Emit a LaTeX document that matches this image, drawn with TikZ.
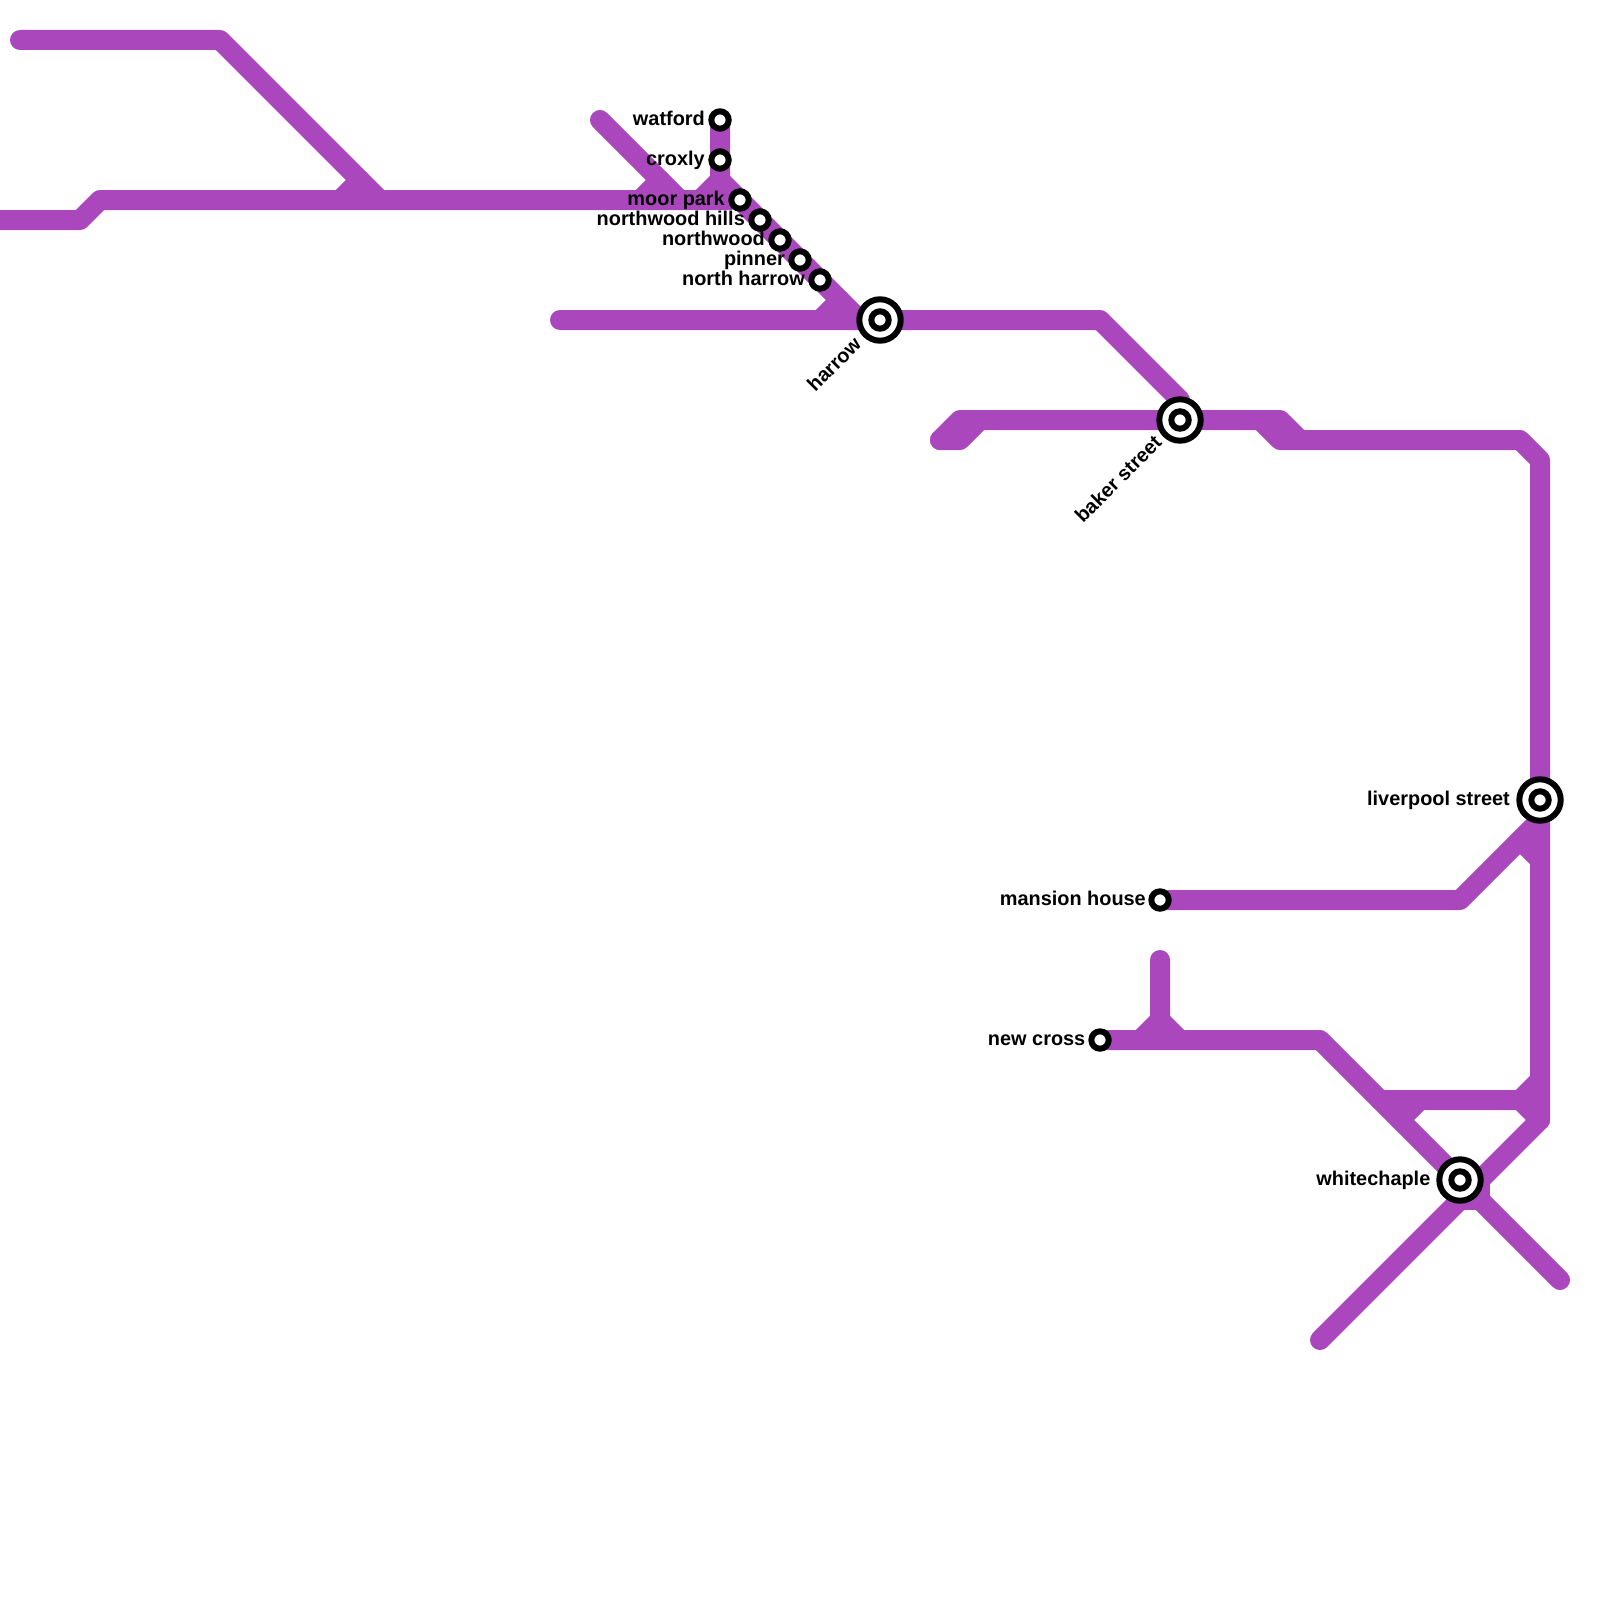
\documentclass[tikz,border=0pt]{standalone}
\usepackage{fontspec}
\setmainfont{Liberation Sans}
\usetikzlibrary{backgrounds}
\definecolor{metro}{HTML}{AB47BC}
\tikzset{
  route/.style={draw=metro,line width=20pt,line cap=round,line join=round},
  halt/.style={circle,draw=black,fill=white,line width=6pt,minimum size=17.4pt,inner sep=0pt},
  hub/.style={circle,draw=black,fill=white,line width=6pt,minimum size=41.4pt,inner sep=0pt},
  lbl/.style={anchor=base east,inner sep=0pt,text=black,font=\fontsize{19.9}{22}\selectfont\bfseries},
  lblr/.style={lbl,rotate=45}
}
\begin{document}
\begin{tikzpicture}[x=1pt,y=-1pt]
\useasboundingbox (0,0) rectangle (1600,1600);
% stations
\node[halt] (watford) at (720,120) {};
\node[halt] (croxly) at (720,160) {};
\node[halt] (moorpark) at (740,200) {};
\node[halt] (nwhills) at (760,220) {};
\node[halt] (northwood) at (780,240) {};
\node[halt] (pinner) at (800,260) {};
\node[halt] (nharrow) at (820,280) {};
\node[hub] (harrow) at (880,320) {};
\node[halt] (harrowin) at (880,320) {};
\node[hub] (baker) at (1180,420) {};
\node[halt] (bakerin) at (1180,420) {};
\node[hub] (liverpool) at (1540,800) {};
\node[halt] (liverpoolin) at (1540,800) {};
\node[halt] (mansion) at (1160,900) {};
\node[halt] (newcross) at (1100,1040) {};
\node[hub] (white) at (1460,1180) {};
\node[halt] (whitein) at (1460,1180) {};
% labels
\node[lbl] (lwatford) at (705,125.2) {watford};
\node[lbl] (lcroxly) at (705,165.2) {croxly};
\node[lbl] (lmoorpark) at (725,205.2) {moor park};
\node[lbl] (lnwhills) at (745,225.2) {northwood hills};
\node[lbl] (lnorthwood) at (765,245.2) {northwood};
\node[lbl] (lpinner) at (785,265.2) {pinner};
\node[lbl] (lnharrow) at (805,285.2) {north harrow};
\node[lblr] (lharrow) at (862.5,345.5) {harrow};
\node[lblr] (lbaker) at (1163,444) {baker street};
\node[lbl] (lliverpool) at (1510,805.2) {liverpool street};
\node[lbl] (lmansion) at (1146,905.2) {mansion house};
\node[lbl] (lnewcross) at (1085.5,1045.2) {new cross};
\node[lbl] (lwhite) at (1430.5,1185.2) {whitechaple};
% waypoints
\foreach \n/\x/\y in {a1/20/40,a2/220/40,a3/380/200,
  b0/-20/220,b1/80/220,b2/100/200,b3/730/200,
  c1/340/200,c2/360/180,
  d1/600/120,d2/680/200,d3/640/200,d4/660/180,
  e1/700/200,e2/720/180,e3/860/320,
  f1/560/320,f2/1100/320,f3/820/320,f4/840/300,f5/1180/400,
  g1/940/440,g2/960/420,g3/1280/420,g4/1300/440,g5/1520/440,g6/1540/460,
  g7/960/440,g8/980/420,g9/1260/420,g10/1280/440,
  h1/1540/1120,h2/1320/1340,
  i1/1460/900,i2/1540/820,i3/1520/840,i4/1540/860,
  j1/1160/960,j2/1160/1020,j3/1140/1040,j4/1180/1040,
  k1/1320/1040,k2/1560/1280,
  m1/1380/1100,m2/1520/1100,m3/1540/1080,m4/1400/1120,m5/1420/1100,
  n1/1480/1180,n2/1480/1200,n3/1460/1200}
  {\coordinate (\n) at (\x,\y);}
\begin{scope}[on background layer]
\draw[route] (a1)--(a2)--(a3);
\draw[route] (b0)--(b1)--(b2)--(b3);
\draw[route] (c1)--(c2);
\draw[route] (d1)--(d2);
\draw[route] (d3)--(d4);
\draw[route] (watford.center)--(croxly.center)--(e2)--(moorpark.center)--(nwhills.center)--(northwood.center)--(pinner.center)--(nharrow.center)--(e3);
\draw[route] (e1)--(e2);
\draw[route] (f1)--(f2)--(f5)--(baker.center);
\draw[route] (f3)--(f4);
\draw[route] (g1)--(g2)--(g3)--(g4)--(g5)--(g6)--(liverpool.center)--(h1)--(h2);
\draw[route] (g1)--(g7)--(g8);
\draw[route] (g9)--(g10)--(g4);
\draw[route] (mansion.center)--(i1)--(i2);
\draw[route] (i3)--(i4);
\draw[route] (j1)--(j2)--(j3);
\draw[route] (j2)--(j4);
\draw[route] (newcross.center)--(k1)--(k2);
\draw[route] (m1)--(m2)--(m3);
\draw[route] (m2)--(h1);
\draw[route] (m4)--(m5);
\draw[route] (n1)--(n2)--(n3);
\end{scope}
\end{tikzpicture}
\end{document}
